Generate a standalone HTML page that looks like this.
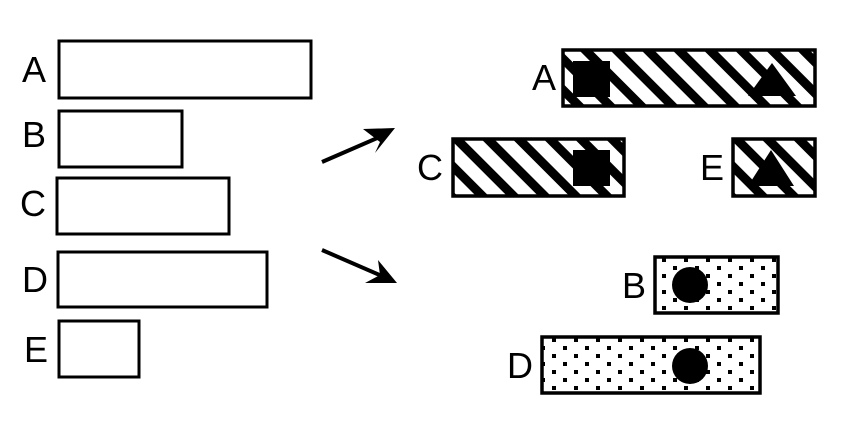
<!DOCTYPE html>
<html><head><style>body{margin:0;background:#fff}</style></head><body>
<svg width="842" height="431" xmlns="http://www.w3.org/2000/svg" font-family="Liberation Sans, sans-serif" font-size="36">
<defs>
<pattern id="h" patternUnits="userSpaceOnUse" width="22" height="22" patternTransform="rotate(-45)">
<rect width="22" height="22" fill="#fff"/><rect width="9" height="22" fill="#000"/></pattern>
<pattern id="d" patternUnits="userSpaceOnUse" width="22" height="16">
<rect width="22" height="16" fill="#fff"/><rect x="2" y="2" width="4" height="4" fill="#000"/><rect x="13" y="10" width="4" height="4" fill="#000"/></pattern>
</defs>
<g fill="none" stroke="#000" stroke-width="3">
<rect x="59" y="41" width="252" height="57"/>
<rect x="59" y="111" width="123" height="56"/>
<rect x="57" y="178" width="172" height="56"/>
<rect x="58" y="252" width="209" height="55"/>
<rect x="59" y="321" width="80" height="56"/>
</g>
<g fill="#000">
<text x="22" y="82">A</text><text x="22" y="147">B</text><text x="20" y="216">C</text>
<text x="22" y="292">D</text><text x="24" y="362">E</text>
<text x="532" y="90">A</text><text x="417" y="180">C</text><text x="700" y="180">E</text>
<text x="622" y="298">B</text><text x="507" y="378">D</text>
</g>
<g stroke="#000" stroke-width="3.5">
<rect x="563" y="50" width="252" height="56" fill="url(#h)"/>
<rect x="453" y="139" width="171" height="57" fill="url(#h)"/>
<rect x="733" y="139" width="82" height="57" fill="url(#h)"/>
<rect x="655" y="257" width="123" height="56" fill="url(#d)"/>
<rect x="542" y="337" width="218" height="56" fill="url(#d)"/>
</g>
<g fill="#000">
<rect x="573" y="61" width="37" height="36"/>
<polygon points="772,63 748,96 796,96"/>
<rect x="573" y="150" width="37" height="36"/>
<polygon points="771,150 748,186 794,186"/>
<circle cx="690" cy="285" r="18"/>
<circle cx="690" cy="366" r="18"/>
</g>
<g stroke="#000" stroke-width="4" fill="#000">
<line x1="322" y1="162" x2="382" y2="136"/>
<polygon points="395,128 363,129 380,142 375,153" stroke="none"/>
<line x1="322" y1="250" x2="382" y2="276"/>
<polygon points="397,283 378,260 380,275 365,283" stroke="none"/>
</g>
</svg>
</body></html>
